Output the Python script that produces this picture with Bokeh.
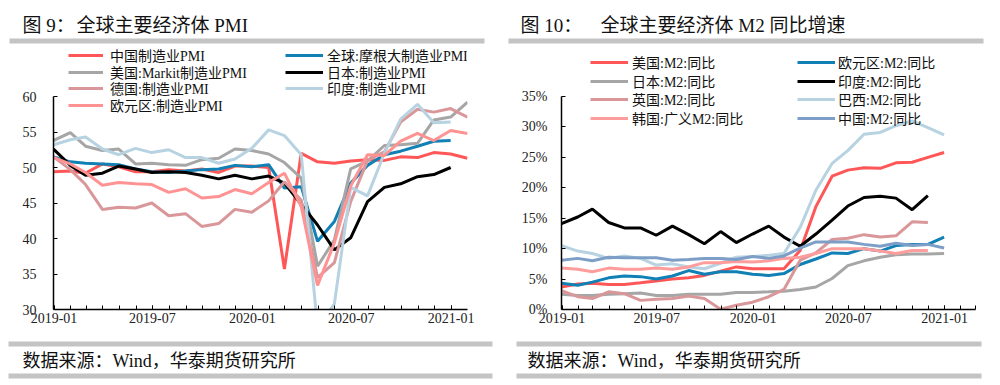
import pandas as pd
from bokeh.plotting import figure
from bokeh.layouts import row, column
from bokeh.models import (Range1d, FixedTicker, DatetimeTickFormatter, PrintfTickFormatter,
                          Legend, LegendItem, ColumnDataSource)
from bokeh.core.properties import value
from bokeh.embed import file_html
from bokeh.resources import INLINE

# ---------------- data ----------------
months = ["2018-12",
          "2019-01", "2019-02", "2019-03", "2019-04", "2019-05", "2019-06",
          "2019-07", "2019-08", "2019-09", "2019-10", "2019-11", "2019-12",
          "2020-01", "2020-02", "2020-03", "2020-04", "2020-05", "2020-06",
          "2020-07", "2020-08", "2020-09", "2020-10", "2020-11", "2020-12",
          "2021-01"]
tick_labels = ["2019-01", "2019-07", "2020-01", "2020-07", "2021-01"]

# Figure 9: PMI
china_pmi = [49.4, 49.5, 49.2, 50.5, 50.1, 49.4, 49.4, 49.7, 49.5, 49.8, 49.3, 50.2, 50.2,
             50.0, 35.7, 52.0, 50.8, 50.6, 50.9, 51.1, 51.0, 51.5, 51.4, 52.1, 51.9, 51.3]
global_pmi = [51.5, 50.8, 50.6, 50.5, 50.4, 49.8, 49.4, 49.3, 49.5, 49.7, 49.8, 50.3, 50.1,
              50.4, 47.1, 47.3, 39.6, 42.4, 47.8, 50.3, 51.8, 52.3, 53.0, 53.7, 53.8]
us_pmi = [53.8, 54.9, 53.0, 52.4, 52.6, 50.5, 50.6, 50.4, 50.3, 51.1, 51.3, 52.6, 52.4,
          51.9, 50.7, 48.5, 36.1, 39.8, 49.8, 50.9, 53.1, 53.2, 53.4, 56.7, 57.1, 59.2]
japan_pmi = [52.6, 50.3, 48.9, 49.2, 50.2, 49.8, 49.3, 49.4, 49.3, 48.9, 48.4, 48.9, 48.4,
             48.8, 47.8, 44.8, 41.9, 38.4, 40.1, 45.2, 47.2, 47.7, 48.7, 49.0, 50.0]
germany_pmi = [51.5, 49.7, 47.6, 44.1, 44.4, 44.3, 45.0, 43.2, 43.5, 41.7, 42.1, 44.1, 43.7,
               45.3, 48.0, 45.4, 34.5, 36.6, 45.2, 51.0, 52.2, 56.4, 58.2, 57.8, 58.3, 57.1]
india_pmi = [53.2, 53.9, 54.3, 52.6, 51.8, 52.7, 52.1, 52.5, 51.4, 51.4, 50.6, 51.2, 52.7,
             55.3, 54.5, 51.8, 27.4, 30.8, 47.2, 46.0, 52.0, 56.8, 58.9, 56.3, 56.4]
euro_pmi = [51.4, 50.5, 49.3, 47.5, 47.9, 47.7, 47.6, 46.5, 47.0, 45.7, 45.9, 46.9, 46.3,
            47.9, 49.2, 44.5, 33.4, 39.4, 47.4, 51.8, 51.7, 53.7, 54.8, 53.8, 55.2, 54.8]

# Figure 10: M2 yoy (%)
us_m2 = [3.7, 4.2, 4.3, 4.1, 4.1, 4.4, 4.7, 5.0, 5.2, 5.6, 6.3, 7.0, 6.7,
         6.7, 6.7, 9.7, 16.9, 21.9, 22.9, 23.3, 23.2, 24.1, 24.2, 25.0, 25.8]
euro_m2 = [4.3, 4.0, 4.5, 5.2, 5.5, 5.4, 5.0, 5.5, 6.4, 5.8, 6.2, 6.2, 5.8,
           5.6, 5.9, 7.4, 8.3, 9.3, 9.2, 10.0, 9.6, 10.5, 10.7, 10.7, 11.9]
japan_m2 = [2.5, 2.3, 2.3, 2.5, 2.6, 2.7, 2.3, 2.3, 2.5, 2.5, 2.5, 2.8, 2.8,
            2.9, 3.0, 3.3, 3.7, 5.1, 7.2, 8.0, 8.6, 9.0, 9.1, 9.1, 9.2]
india_m2 = [14.1, 15.2, 16.5, 14.3, 13.4, 13.4, 12.2, 13.7, 12.3, 10.8, 12.8, 11.0, 12.4,
            13.7, 11.9, 10.4, 12.4, 14.7, 17.0, 18.4, 18.6, 18.3, 16.4, 18.7]
uk_m2 = [3.1, 2.1, 1.8, 2.9, 2.6, 1.5, 1.7, 1.8, 2.2, 1.8, 0.05, 0.7, 1.2,
         2.1, 3.3, 8.1, 9.3, 11.5, 11.7, 12.3, 11.9, 12.1, 14.4, 14.3]
brazil_m2 = [10.5, 9.6, 9.2, 8.4, 8.8, 8.4, 7.3, 7.5, 7.0, 6.7, 7.6, 8.6, 8.7,
             8.9, 9.2, 13.5, 19.6, 24.0, 26.1, 28.8, 29.1, 30.2, 31.0, 29.9, 28.7]
korea_m2 = [6.8, 6.6, 6.2, 6.8, 6.6, 6.6, 6.8, 6.6, 7.0, 7.7, 7.7, 7.9, 7.8,
            8.0, 8.4, 8.6, 9.2, 10.0, 10.0, 10.0, 9.6, 9.2, 9.7, 9.7]
china_m2 = [8.1, 8.4, 8.0, 8.6, 8.5, 8.5, 8.5, 8.1, 8.2, 8.4, 8.4, 8.2, 8.7,
            8.4, 8.8, 10.1, 11.1, 11.1, 11.1, 10.7, 10.4, 10.9, 10.5, 10.7, 10.1]

pmi_series = [
    ("中国制造业PMI", china_pmi, "#FF5757"),
    ("全球:摩根大制造业PMI", global_pmi, "#1180B5"),
    ("美国:Markit制造业PMI", us_pmi, "#A6A6A6"),
    ("日本:制造业PMI", japan_pmi, "#000000"),
    ("德国:制造业PMI", germany_pmi, "#D9979A"),
    ("印度:制造业PMI", india_pmi, "#B7D3E1"),
    ("欧元区:制造业PMI", euro_pmi, "#FF9393"),
]
m2_series = [
    ("美国:M2:同比", us_m2, "#FF5757"),
    ("欧元区:M2:同比", euro_m2, "#1180B5"),
    ("日本:M2:同比", japan_m2, "#A6A6A6"),
    ("印度:M2:同比", india_m2, "#000000"),
    ("英国:M2:同比", uk_m2, "#D9979A"),
    ("巴西:M2:同比", brazil_m2, "#B7D3E1"),
    ("韩国:广义M2:同比", korea_m2, "#FF9C9C"),
    ("中国:M2:同比", china_m2, "#7D9EC6"),
]

titles = [("图 9：", "全球主要经济体 PMI"), ("图 10：", "全球主要经济体 M2 同比增速")]
source_text = "数据来源：Wind，华泰期货研究所"

# ---------------- layout constants (px) ----------------
dates = pd.to_datetime(months) + pd.offsets.MonthEnd(0)
SERIF_CJK = "Liberation Serif, Noto Sans CJK SC"
W = 500
HEAD_H, MAIN_H, FOOT_H = 44, 292, 49
FRAME_H = 265           # frame occupies main figure from its top to 265
AXIS_TOP_PX = 52        # where the top tick (60 / 35%) sits inside the frame
BAR_COL = "#C4C4C4"
ITEM_H = 22


def ms(s):
    return pd.Timestamp(s).value // 10**6


def blank_fig(h):
    p = figure(width=W, height=h, x_range=Range1d(0, W), y_range=Range1d(h, 0),
               output_backend="svg", toolbar_location=None,
               min_border=0, min_border_left=0, min_border_right=0,
               min_border_top=0, min_border_bottom=0)
    p.axis.visible = False
    p.grid.visible = False
    p.outline_line_color = None
    p.background_fill_color = "white"
    p.border_fill_color = "white"
    return p


def header(t1, x1, t2, x2, bar_l, bar_r):
    p = blank_fig(HEAD_H)
    p.text(x=[x1, x2], y=[24.5, 24.5], text=[t1, t2], text_font=value(SERIF_CJK),
           text_font_size=value("19px"), text_baseline="middle", text_align="left",
           text_color="#111111")
    p.quad(left=[bar_l], right=[bar_r], top=[38], bottom=[43], fill_color=BAR_COL, line_color=None)
    return p


def footer(tx, bar_l, bar_r):
    p = blank_fig(FOOT_H)
    p.quad(left=[bar_l, bar_l], right=[bar_r, bar_r], top=[5, 37], bottom=[10, 42],
           fill_color=BAR_COL, line_color=None)
    p.text(x=[tx], y=[24], text=[source_text], text_font=value(SERIF_CJK),
           text_font_size=value("18px"), text_baseline="middle", text_align="left",
           text_color="#111111")
    return p


def make_main(fl, fr, x_end, y_lo, y_hi, y_ticks):
    y_top = y_hi + (y_hi - y_lo) * AXIS_TOP_PX / (FRAME_H - AXIS_TOP_PX)
    p = figure(width=W, height=MAIN_H, x_axis_type="datetime",
               x_range=Range1d(dates[0], pd.Timestamp(x_end)),
               y_range=Range1d(y_lo, y_top),
               output_backend="svg", toolbar_location=None,
               min_border_left=fl, min_border_right=fr,
               min_border_top=0, min_border_bottom=MAIN_H - FRAME_H)
    p.outline_line_color = None
    p.grid.visible = False
    p.background_fill_color = "white"
    p.border_fill_color = "white"
    minor = [ms(d) for d in pd.date_range("2019-01-01", x_end, freq="MS")]
    p.xaxis.ticker = FixedTicker(ticks=[ms(t + "-01") for t in tick_labels], minor_ticks=minor)
    fmt = "%Y-%m"
    p.xaxis.formatter = DatetimeTickFormatter(
        microseconds=fmt, milliseconds=fmt, seconds=fmt, minsec=fmt, minutes=fmt,
        hourmin=fmt, hours=fmt, days=fmt, months=fmt, years=fmt)
    p.yaxis.ticker = FixedTicker(ticks=y_ticks, minor_ticks=[])
    p.yaxis.bounds = (y_lo, y_hi)
    for ax in (p.xaxis[0], p.yaxis[0]):
        ax.axis_line_color = "black"
        ax.axis_line_width = 1.5
        ax.major_tick_in = 4
        ax.major_tick_out = 0
        ax.minor_tick_in = 4
        ax.minor_tick_out = 0
        ax.major_tick_line_color = "black"
        ax.minor_tick_line_color = "black"
        ax.major_label_text_font = "Liberation Serif"
        ax.major_label_text_font_size = "14px"
        ax.major_label_text_color = "#222222"
    p.xaxis.major_label_standoff = 3
    return p


def add_item_legend(p, name, rend, vx, center_from_top, gw, standoff):
    vy = FRAME_H - center_from_top - ITEM_H / 2
    lg = Legend(items=[LegendItem(label=name, renderers=[rend])], location=(vx, vy),
                orientation="vertical", glyph_width=gw, glyph_height=ITEM_H,
                label_height=ITEM_H, spacing=0, padding=0, margin=0,
                label_standoff=standoff, background_fill_alpha=0, border_line_alpha=0,
                label_text_font=SERIF_CJK, label_text_font_size="14px",
                label_text_color="#111111")
    p.add_layout(lg)


# ---------------- figure 9 ----------------
p1 = make_main(53, W - 467, "2021-01-31", 30, 60, [30, 35, 40, 45, 50, 55, 60])
p1.yaxis.major_label_standoff = 17
r1 = []
for name, vals, col in pmi_series:
    src = ColumnDataSource(dict(x=dates[:len(vals)], y=vals))
    r1.append(p1.line("x", "y", source=src, line_color=col, line_width=3))
rows1 = [11, 27.7, 44.3, 61]
for k, idx in enumerate([0, 2, 4, 6]):
    add_item_legend(p1, pmi_series[idx][0], r1[idx], 15, rows1[k], 35, 7)
for k, idx in enumerate([1, 3, 5]):
    add_item_legend(p1, pmi_series[idx][0], r1[idx], 232, rows1[k], 38, 4)

# ---------------- figure 10 ----------------
p2 = make_main(61, W - 475, "2021-03-01", 0, 35, [0, 5, 10, 15, 20, 25, 30, 35])
p2.yaxis.formatter = PrintfTickFormatter(format="%d%%")
p2.yaxis.major_label_standoff = 14
r2 = []
for name, vals, col in m2_series:
    src = ColumnDataSource(dict(x=dates[:len(vals)], y=vals))
    r2.append(p2.line("x", "y", source=src, line_color=col, line_width=3))
rows2 = [18, 36.7, 55.3, 74.3]
for k, idx in enumerate([0, 2, 4, 6]):
    add_item_legend(p2, m2_series[idx][0], r2[idx], 29, rows2[k], 38, 4)
for k, idx in enumerate([1, 3, 5, 7]):
    add_item_legend(p2, m2_series[idx][0], r2[idx], 236, rows2[k], 38, 3)

h1 = header(titles[0][0], 22, titles[0][1], 76, 9, 484)
h2 = header(titles[1][0], 20, titles[1][1], 100, 8, 483)
f1 = footer(22, 8, 492)
f2 = footer(27, 16, 481)

layout = column(row(h1, h2), row(p1, p2), row(f1, f2))
open("out.html", "w").write(file_html(layout, INLINE))
